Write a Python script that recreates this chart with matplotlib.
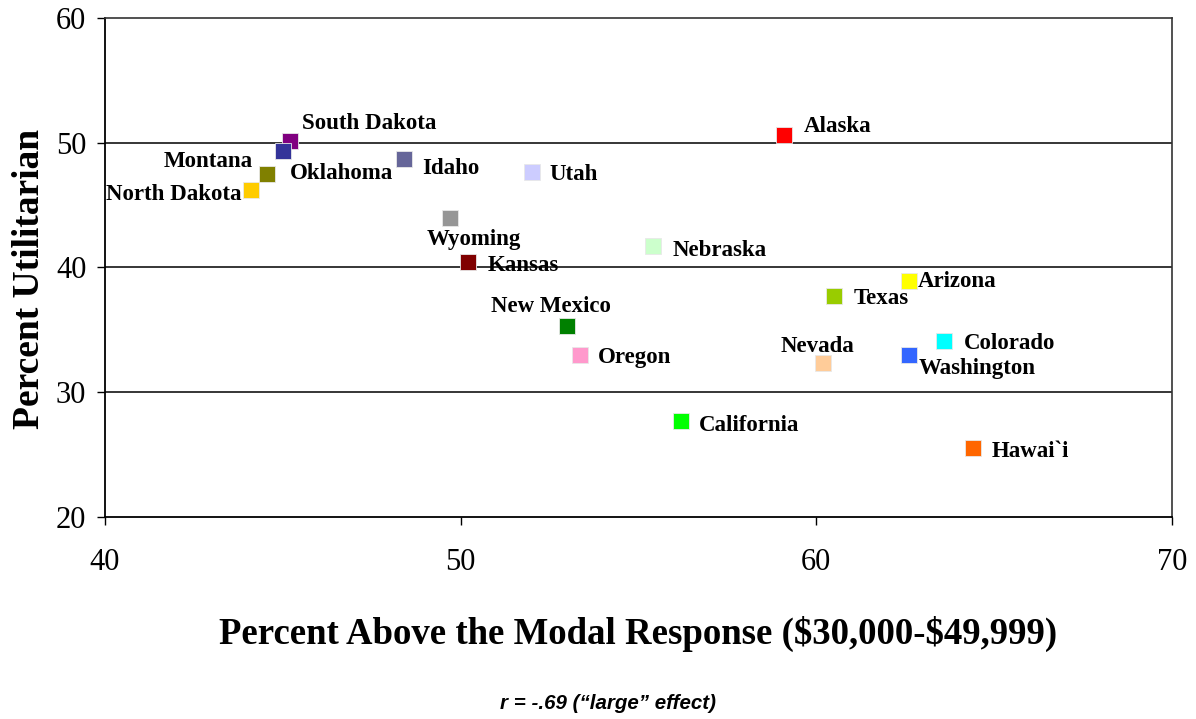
import matplotlib.pyplot as plt

states = ['South Dakota', 'Oklahoma', 'Montana', 'North Dakota', 'Idaho', 'Utah',
          'Wyoming', 'Kansas', 'Nebraska', 'Alaska', 'Arizona', 'Texas',
          'New Mexico', 'Oregon', 'Nevada', 'Washington', 'Colorado',
          'California', 'Hawai`i']
above_modal = [45.2, 45.0, 44.55, 44.1, 48.4, 52.0,
               49.7, 50.2, 55.4, 59.1, 62.6, 60.5,
               53.0, 53.35, 60.2, 62.6, 63.6,
               56.2, 64.4]
utilitarian = [50.1, 49.3, 47.5, 46.2, 48.7, 47.65,
               44.0, 40.45, 41.7, 50.6, 38.9, 37.7,
               35.3, 33.0, 32.35, 33.0, 34.1,
               27.7, 25.5]
colors = ['#800080', '#333399', '#808000', '#FFCC00', '#666699', '#CCCCFF',
          '#969696', '#800000', '#CCFFCC', '#FF0000', '#FFFF00', '#99CC00',
          '#008000', '#FF99CC', '#FFCC99', '#3366FF', '#00FFFF',
          '#00FF00', '#FF6600']

# label offsets in points and alignment
offsets = {
    'South Dakota': (9, 13, 'left'),
    'Oklahoma': (5, -16, 'left'),
    'Montana': (-10, 9, 'right'),
    'North Dakota': (-7, -3.5, 'right'),
    'Idaho': (13, -7, 'left'),
    'Utah': (13, -1.5, 'left'),
    'Wyoming': (17, -16, 'center'),
    'Kansas': (14, -2.5, 'left'),
    'Nebraska': (14, -3, 'left'),
    'Alaska': (14, 6, 'left'),
    'Arizona': (6.5, 0, 'left'),
    'Texas': (14, -2, 'left'),
    'New Mexico': (-12, 14, 'center'),
    'Oregon': (13, -2, 'left'),
    'Nevada': (-4, 12, 'center'),
    'Washington': (7, -10, 'left'),
    'Colorado': (14, -2, 'left'),
    'California': (13, -3, 'left'),
    'Hawai`i': (14, -2, 'left'),
}

plt.rcParams['font.family'] = ['Liberation Serif', 'DejaVu Serif']

fig = plt.figure(figsize=(11.96, 7.19), dpi=100)
ax = fig.add_axes([0.0878, 0.281, 0.892, 0.694])

for yv in [30, 40, 50]:
    ax.axhline(yv, color='black', lw=1.1, zorder=1)

for s, x, y, c in zip(states, above_modal, utilitarian, colors):
    ax.plot(x, y, marker='s', ms=11, color=c, mec='#e8e8e8', mew=0.6,
            ls='none', zorder=3)
    dx, dy, ha = offsets[s]
    ax.annotate(s, (x, y), xytext=(dx, dy), textcoords='offset points',
                ha=ha, va='center', fontsize=16.5, fontweight='bold', zorder=4)

ax.set_xlim(40, 70)
ax.set_ylim(20, 60)
ax.set_xticks([40, 50, 60, 70])
ax.set_yticks([20, 30, 40, 50, 60])
ax.tick_params(direction='out', length=5.5, width=1, labelsize=22, color='black')
ax.tick_params(axis='x', pad=17)
ax.tick_params(axis='y', pad=8)
for side in ['left', 'bottom']:
    ax.spines[side].set_linewidth(1.3)
for side in ['top', 'right']:
    ax.spines[side].set_color('#333333')
    ax.spines[side].set_linewidth(1.2)

ax.set_xlabel('Percent Above the Modal Response (\\$30,000-\\$49,999)',
              fontsize=26.5, fontweight='bold')
ax.set_ylabel('Percent Utilitarian', fontsize=27, fontweight='bold')
ax.xaxis.set_label_coords(0.5, -0.199)
ax.yaxis.set_label_coords(-0.0545, 0.477)

fig.text(0.508, 0.022, 'r = -.69 (\u201clarge\u201d effect)', ha='center', va='center',
         fontsize=14.8, fontweight='bold', style='italic',
         family=['Liberation Sans', 'DejaVu Sans'])

fig.savefig('out.png', dpi=100)
